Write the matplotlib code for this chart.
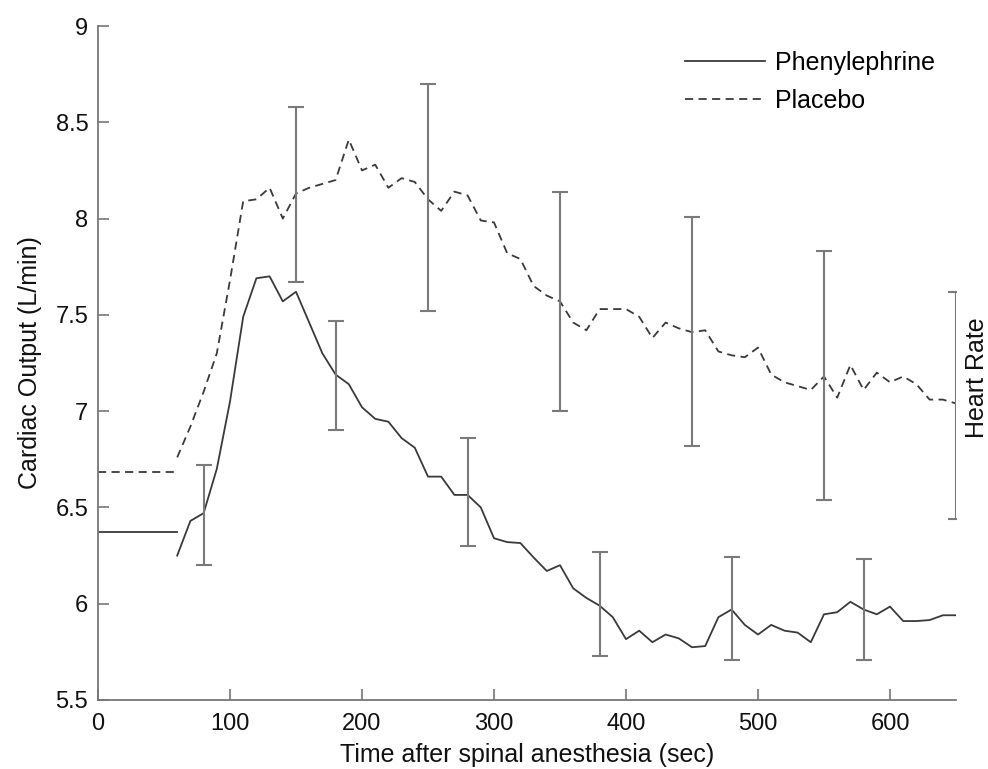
import numpy as np
import matplotlib
matplotlib.use("Agg")
import matplotlib.pyplot as plt
from matplotlib.ticker import FormatStrFormatter

plt.rcParams['font.family'] = ['Liberation Sans', 'DejaVu Sans']

# Baseline (pre-anesthesia) level, drawn flat up to 60 s
baseline_t = [0, 60]
phenyl_base = 6.37
placebo_base = 6.685

# Mean cardiac output after spinal anesthesia (L/min)
t = [60, 70, 80, 90, 100, 110, 120, 130, 140, 150,
     160, 170, 180, 190, 200, 210, 220, 230, 240, 250,
     260, 270, 280, 290, 300, 310, 320, 330, 340, 350,
     360, 370, 380, 390, 400, 410, 420, 430, 440, 450,
     460, 470, 480, 490, 500, 510, 520, 530, 540, 550,
     560, 570, 580, 590, 600, 610, 620, 630, 640, 650]

phenylephrine = [6.25, 6.43, 6.47, 6.70, 7.05, 7.49, 7.69, 7.70, 7.57, 7.62,
                 7.46, 7.30, 7.19, 7.14, 7.02, 6.96, 6.945, 6.86, 6.81, 6.66,
                 6.66, 6.565, 6.565, 6.50, 6.34, 6.32, 6.315, 6.24, 6.17, 6.20,
                 6.08, 6.03, 5.99, 5.93, 5.816, 5.86, 5.80, 5.84, 5.82, 5.774,
                 5.78, 5.93, 5.97, 5.89, 5.84, 5.89, 5.86, 5.85, 5.80, 5.945,
                 5.956, 6.01, 5.97, 5.945, 5.985, 5.91, 5.91, 5.915, 5.94, 5.94]

placebo = [6.76, 6.92, 7.10, 7.30, 7.68, 8.09, 8.10, 8.16, 8.00, 8.13,
           8.16, 8.18, 8.20, 8.41, 8.25, 8.28, 8.16, 8.21, 8.19, 8.10,
           8.04, 8.14, 8.12, 7.99, 7.98, 7.82, 7.79, 7.65, 7.60, 7.57,
           7.46, 7.42, 7.53, 7.53, 7.53, 7.49, 7.38, 7.46, 7.43, 7.41,
           7.42, 7.31, 7.29, 7.28, 7.33, 7.19, 7.15, 7.13, 7.11, 7.18,
           7.07, 7.24, 7.11, 7.20, 7.15, 7.18, 7.14, 7.06, 7.06, 7.04]

# Error bar ranges (low / high)
phenyl_err_t = [80, 180, 280, 380, 480, 580]
phenyl_err_lo = [6.20, 6.90, 6.30, 5.73, 5.71, 5.71]
phenyl_err_hi = [6.72, 7.47, 6.86, 6.27, 6.24, 6.23]

placebo_err_t = [150, 250, 350, 450, 550, 650]
placebo_err_lo = [7.67, 7.52, 7.00, 6.82, 6.54, 6.44]
placebo_err_hi = [8.58, 8.70, 8.14, 8.01, 7.83, 7.62]

line_col = '#3a3a3a'
err_col = '#7a7a7a'
axis_col = '#777777'
dash = (4.5, 3)

fig = plt.figure(figsize=(9.88, 7.69), dpi=100)
ax = fig.add_axes([98 / 988, 69 / 769, 858 / 988, 674 / 769])

ax.plot(baseline_t, [phenyl_base] * 2, color=line_col, lw=1.3)
ax.plot(baseline_t, [placebo_base] * 2, color=line_col, lw=1.3, dashes=dash)

ax.plot(t, phenylephrine, color=line_col, lw=1.3, label='Phenylephrine')
ax.plot(t, placebo, color=line_col, lw=1.3, dashes=dash, label='Placebo')

for et, lo, hi in [(phenyl_err_t, phenyl_err_lo, phenyl_err_hi),
                   (placebo_err_t, placebo_err_lo, placebo_err_hi)]:
    lo = np.array(lo)
    hi = np.array(hi)
    ax.errorbar(et, (lo + hi) / 2, yerr=(hi - lo) / 2, fmt='none',
                ecolor=err_col, elinewidth=1.5, capsize=6, capthick=1.5)

ax.set_xlim(0, 650)
ax.set_ylim(5.5, 9)
ax.set_xticks([0, 100, 200, 300, 400, 500, 600])
ax.set_yticks([5.5, 6, 6.5, 7, 7.5, 8, 8.5, 9])
ax.yaxis.set_major_formatter(FormatStrFormatter('%g'))

for side in ['top', 'right']:
    ax.spines[side].set_visible(False)
for side in ['left', 'bottom']:
    ax.spines[side].set_color(axis_col)
    ax.spines[side].set_linewidth(1.3)

ax.tick_params(direction='in', length=8, width=1.2, color=axis_col,
               labelsize=17, labelcolor='#111111')
ax.tick_params(axis='x', pad=9)
ax.tick_params(axis='y', pad=7)

ax.set_xlabel('Time after spinal anesthesia (sec)', fontsize=18, labelpad=6, color='#111111')
ax.set_ylabel('Cardiac Output (L/min)', fontsize=18, labelpad=10, color='#111111')

fig.text(977 / 988, 1 - 378 / 769, 'Heart Rate', rotation=90, fontsize=18,
         ha='center', va='center', color='#111111')

leg = ax.legend(loc='upper left', bbox_to_anchor=(685 / 988, 1 - 51 / 769),
                bbox_transform=fig.transFigure, frameon=False, fontsize=18,
                handlelength=3.2, handletextpad=0.4, labelspacing=0.55,
                borderpad=0, borderaxespad=0)

fig.savefig('out.png', dpi=100)
